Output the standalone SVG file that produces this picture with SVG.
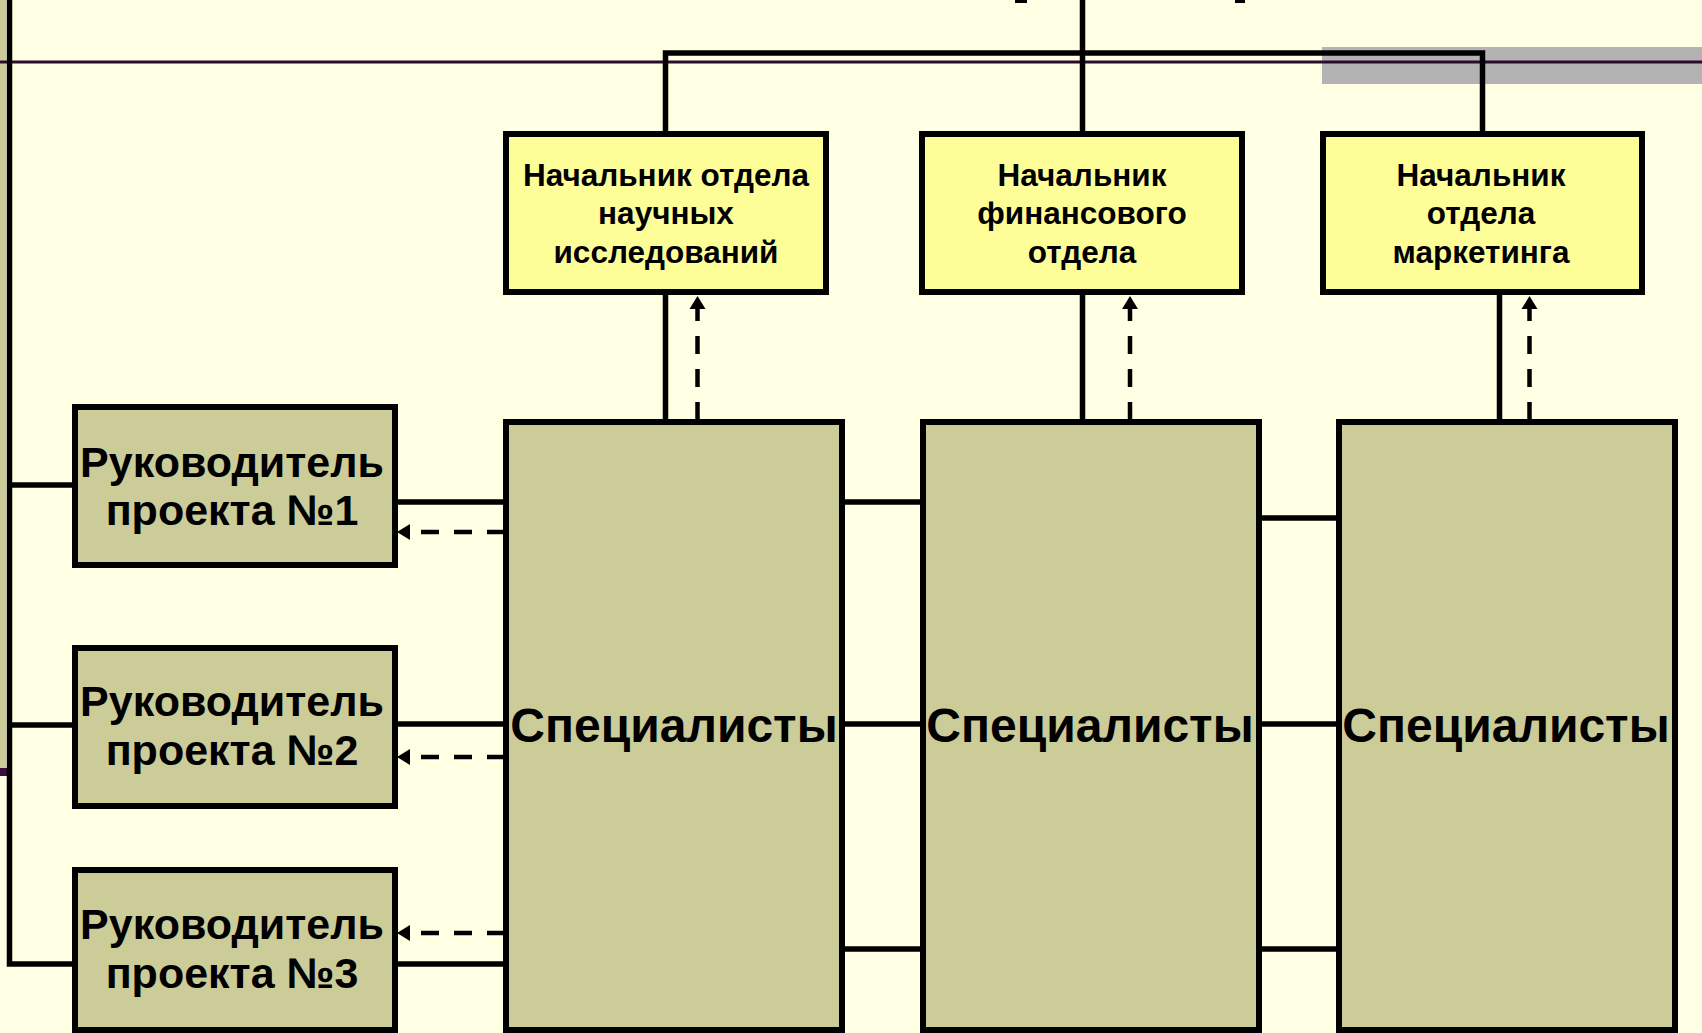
<svg xmlns="http://www.w3.org/2000/svg" width="1702" height="1033" viewBox="0 0 1702 1033">
<defs>
<style>
.box{stroke:#000;stroke-width:6}
.yel{fill:#FEFE99}
.kh{fill:#CCCC99}
.ln{fill:none;stroke:#000;stroke-width:5.5}
.dl{fill:none;stroke:#000;stroke-width:4.5;stroke-dasharray:18 15}
.t{font-family:"Liberation Sans",Arial,sans-serif;font-weight:bold;fill:#000;text-anchor:middle}
.ty{font-size:31.5px}
.tr{font-size:43px}
.ts{font-size:48px}
</style>
<marker id="arr" markerUnits="userSpaceOnUse" markerWidth="14" markerHeight="16" refX="0" refY="8" orient="auto" overflow="visible">
<path d="M0,0 L13,8 L0,16 z" fill="#000"/>
</marker>
</defs>
<rect width="1702" height="1033" fill="#FFFFE3"/>
<rect x="0" y="0" width="6" height="768" fill="#CCCC99"/>
<rect x="0" y="768" width="9" height="8" fill="#3A0D3A"/>
<rect x="1322" y="47" width="380" height="37" fill="#B3B3B3"/>
<rect x="0" y="60.5" width="1702" height="3" fill="#2D0B2D"/>
<rect x="1015" y="0" width="12" height="3" fill="#000"/>
<rect x="1235" y="0" width="10" height="3" fill="#000"/>

<g id="connectors">
<path class="ln" d="M9.5,0 V964 H75 M9.5,485 H75 M9.5,725 H75"/>
<path class="ln" d="M395,502 H506 M395,724 H506 M395,964 H506"/>
<path class="ln" d="M842,502 H923 M842,724 H923 M842,949 H923"/>
<path class="ln" d="M1259,518 H1339 M1259,724 H1339 M1259,949 H1339"/>
<path class="ln" d="M665.5,292 V422 M1082.5,292 V422 M1499.5,292 V422"/>
<path class="ln" d="M665.5,134 V53 H1482.5 V134 M1082.5,0 V134"/>
<line class="dl" x1="505" y1="532" x2="410" y2="532" marker-end="url(#arr)"/>
<line class="dl" x1="505" y1="757" x2="410" y2="757" marker-end="url(#arr)"/>
<line class="dl" x1="505" y1="933" x2="410" y2="933" marker-end="url(#arr)"/>
<line class="dl" x1="697.5" y1="420" x2="697.5" y2="309" marker-end="url(#arr)"/>
<line class="dl" x1="1130" y1="420" x2="1130" y2="309" marker-end="url(#arr)"/>
<line class="dl" x1="1529.5" y1="420" x2="1529.5" y2="309" marker-end="url(#arr)"/>
</g>

<g id="head-research">
<rect class="box yel" x="506" y="134" width="320" height="158"/>
<text class="t ty" x="666" y="186">Начальник отдела</text>
<text class="t ty" x="666" y="224">научных</text>
<text class="t ty" x="666" y="263">исследований</text>
</g>
<g id="head-finance">
<rect class="box yel" x="922" y="134" width="320" height="158"/>
<text class="t ty" x="1082" y="186">Начальник</text>
<text class="t ty" x="1082" y="224">финансового</text>
<text class="t ty" x="1082" y="263">отдела</text>
</g>
<g id="head-marketing">
<rect class="box yel" x="1323" y="134" width="319" height="158"/>
<text class="t ty" x="1481" y="186">Начальник</text>
<text class="t ty" x="1481" y="224">отдела</text>
<text class="t ty" x="1481" y="263">маркетинга</text>
</g>

<g id="spec-1">
<rect class="box kh" x="506" y="422" width="336" height="608"/>
<text class="t ts" x="674" y="742">Специалисты</text>
</g>
<g id="spec-2">
<rect class="box kh" x="923" y="422" width="336" height="608"/>
<text class="t ts" x="1090" y="742">Специалисты</text>
</g>
<g id="spec-3">
<rect class="box kh" x="1339" y="422" width="336" height="608"/>
<text class="t ts" x="1506" y="742">Специалисты</text>
</g>

<g id="pm-1">
<rect class="box kh" x="75" y="407" width="320" height="158"/>
<text class="t tr" x="232" y="477">Руководитель</text>
<text class="t tr" x="232" y="525">проекта №1</text>
</g>
<g id="pm-2">
<rect class="box kh" x="75" y="648" width="320" height="158"/>
<text class="t tr" x="232" y="716">Руководитель</text>
<text class="t tr" x="232" y="765">проекта №2</text>
</g>
<g id="pm-3">
<rect class="box kh" x="75" y="870" width="320" height="160"/>
<text class="t tr" x="232" y="939">Руководитель</text>
<text class="t tr" x="232" y="988">проекта №3</text>
</g>
</svg>
